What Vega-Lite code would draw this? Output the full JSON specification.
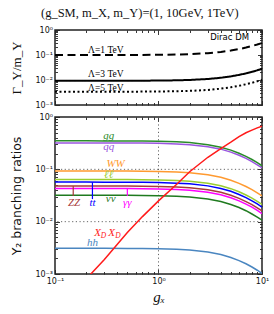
{
 "$schema": "https://vega.github.io/schema/vega-lite/v6.json",
 "padding": {"left": 10, "top": 6, "right": 9, "bottom": 2},
 "bounds": "flush",
 "spacing": 12,
 "background": "white",
 "title": {"text": "(g_SM, m_X, m_Y)=(1, 10GeV, 1TeV)", "font": "Liberation Serif", "fontSize": 12.5, "fontWeight": "normal", "anchor": "middle", "offset": 6, "color": "#111"},
 "config": {
  "view": {"stroke": "#222", "strokeWidth": 1.5},
  "axis": {"domain": false, "grid": false, "tickColor": "#222", "tickSize": -4.5, "tickWidth": 0.9, "labelFont": "DejaVu Sans", "labelFontSize": 8, "labelColor": "#111", "labelOverlap": false, "labelFlush": false, "labelBound": false, "titleColor": "#111", "titleFontWeight": "normal"}
 },
 "datasets": {
  "width": [
   {"lam":"1","g":0.1,"v":0.1},{"lam":"1","g":0.3,"v":0.1002},{"lam":"1","g":0.5,"v":0.1005},{"lam":"1","g":0.7,"v":0.101},{"lam":"1","g":1,"v":0.102},{"lam":"1","g":1.5,"v":0.1045},{"lam":"1","g":2,"v":0.108},{"lam":"1","g":3,"v":0.118},{"lam":"1","g":4,"v":0.132},{"lam":"1","g":5,"v":0.15},{"lam":"1","g":6,"v":0.172},{"lam":"1","g":7,"v":0.198},{"lam":"1","g":8,"v":0.228},{"lam":"1","g":9,"v":0.262},{"lam":"1","g":10,"v":0.3},
   {"lam":"3","g":0.1,"v":0.0093},{"lam":"3","g":0.3,"v":0.00932},{"lam":"3","g":0.5,"v":0.00935},{"lam":"3","g":0.7,"v":0.00939},{"lam":"3","g":1,"v":0.00949},{"lam":"3","g":1.5,"v":0.00972},{"lam":"3","g":2,"v":0.01004},{"lam":"3","g":3,"v":0.01097},{"lam":"3","g":4,"v":0.01228},{"lam":"3","g":5,"v":0.01395},{"lam":"3","g":6,"v":0.016},{"lam":"3","g":7,"v":0.01841},{"lam":"3","g":8,"v":0.0212},{"lam":"3","g":9,"v":0.02437},{"lam":"3","g":10,"v":0.0279},
   {"lam":"5","g":0.1,"v":0.0034},{"lam":"5","g":0.3,"v":0.00341},{"lam":"5","g":0.5,"v":0.00342},{"lam":"5","g":0.7,"v":0.00343},{"lam":"5","g":1,"v":0.00347},{"lam":"5","g":1.5,"v":0.00355},{"lam":"5","g":2,"v":0.00367},{"lam":"5","g":3,"v":0.00401},{"lam":"5","g":4,"v":0.00449},{"lam":"5","g":5,"v":0.0051},{"lam":"5","g":6,"v":0.00585},{"lam":"5","g":7,"v":0.00673},{"lam":"5","g":8,"v":0.00775},{"lam":"5","g":9,"v":0.00891},{"lam":"5","g":10,"v":0.0102}
  ],
  "wlab": [
   {"g":0.31,"v":0.16,"t":"Λ=1 TeV"},
   {"g":0.31,"v":0.0178,"t":"Λ=3 TeV"},
   {"g":0.31,"v":0.0049,"t":"Λ=5 TeV"}
  ],
  "br": [
   {"c":"qq","g":0.1,"v":0.32},{"c":"qq","g":0.2,"v":0.32},{"c":"qq","g":0.3,"v":0.319},{"c":"qq","g":0.5,"v":0.318},{"c":"qq","g":0.7,"v":0.317},{"c":"qq","g":1,"v":0.314},{"c":"qq","g":1.5,"v":0.306},{"c":"qq","g":2,"v":0.296},{"c":"qq","g":3,"v":0.271},{"c":"qq","g":4,"v":0.243},{"c":"qq","g":5,"v":0.213},{"c":"qq","g":6,"v":0.186},{"c":"qq","g":7,"v":0.162},{"c":"qq","g":8,"v":0.14},{"c":"qq","g":9,"v":0.122},{"c":"qq","g":10,"v":0.107},
   {"c":"gg","g":0.1,"v":0.35},{"c":"gg","g":0.2,"v":0.35},{"c":"gg","g":0.3,"v":0.349},{"c":"gg","g":0.5,"v":0.348},{"c":"gg","g":0.7,"v":0.347},{"c":"gg","g":1,"v":0.343},{"c":"gg","g":1.5,"v":0.335},{"c":"gg","g":2,"v":0.324},{"c":"gg","g":3,"v":0.296},{"c":"gg","g":4,"v":0.265},{"c":"gg","g":5,"v":0.233},{"c":"gg","g":6,"v":0.203},{"c":"gg","g":7,"v":0.177},{"c":"gg","g":8,"v":0.154},{"c":"gg","g":9,"v":0.134},{"c":"gg","g":10,"v":0.117},
   {"c":"WW","g":0.1,"v":0.093},{"c":"WW","g":0.2,"v":0.093},{"c":"WW","g":0.3,"v":0.0928},{"c":"WW","g":0.5,"v":0.0925},{"c":"WW","g":0.7,"v":0.0921},{"c":"WW","g":1,"v":0.0911},{"c":"WW","g":1.5,"v":0.089},{"c":"WW","g":2,"v":0.0861},{"c":"WW","g":3,"v":0.0788},{"c":"WW","g":4,"v":0.0705},{"c":"WW","g":5,"v":0.062},{"c":"WW","g":6,"v":0.054},{"c":"WW","g":7,"v":0.047},{"c":"WW","g":8,"v":0.0408},{"c":"WW","g":9,"v":0.0355},{"c":"WW","g":10,"v":0.031},
   {"c":"ll","g":0.1,"v":0.064},{"c":"ll","g":0.2,"v":0.064},{"c":"ll","g":0.3,"v":0.0639},{"c":"ll","g":0.5,"v":0.0637},{"c":"ll","g":0.7,"v":0.0634},{"c":"ll","g":1,"v":0.0627},{"c":"ll","g":1.5,"v":0.0612},{"c":"ll","g":2,"v":0.0593},{"c":"ll","g":3,"v":0.0542},{"c":"ll","g":4,"v":0.0485},{"c":"ll","g":5,"v":0.0427},{"c":"ll","g":6,"v":0.0372},{"c":"ll","g":7,"v":0.0323},{"c":"ll","g":8,"v":0.0281},{"c":"ll","g":9,"v":0.0244},{"c":"ll","g":10,"v":0.0213},
   {"c":"tt","g":0.1,"v":0.057},{"c":"tt","g":0.2,"v":0.057},{"c":"tt","g":0.3,"v":0.0569},{"c":"tt","g":0.5,"v":0.0567},{"c":"tt","g":0.7,"v":0.0564},{"c":"tt","g":1,"v":0.0559},{"c":"tt","g":1.5,"v":0.0545},{"c":"tt","g":2,"v":0.0528},{"c":"tt","g":3,"v":0.0483},{"c":"tt","g":4,"v":0.0432},{"c":"tt","g":5,"v":0.038},{"c":"tt","g":6,"v":0.0331},{"c":"tt","g":7,"v":0.0288},{"c":"tt","g":8,"v":0.025},{"c":"tt","g":9,"v":0.0218},{"c":"tt","g":10,"v":0.019},
   {"c":"ZZ","g":0.1,"v":0.048},{"c":"ZZ","g":0.2,"v":0.048},{"c":"ZZ","g":0.3,"v":0.0479},{"c":"ZZ","g":0.5,"v":0.0478},{"c":"ZZ","g":0.7,"v":0.0475},{"c":"ZZ","g":1,"v":0.047},{"c":"ZZ","g":1.5,"v":0.0459},{"c":"ZZ","g":2,"v":0.0444},{"c":"ZZ","g":3,"v":0.0407},{"c":"ZZ","g":4,"v":0.0364},{"c":"ZZ","g":5,"v":0.032},{"c":"ZZ","g":6,"v":0.0279},{"c":"ZZ","g":7,"v":0.0242},{"c":"ZZ","g":8,"v":0.0211},{"c":"ZZ","g":9,"v":0.0183},{"c":"ZZ","g":10,"v":0.016},
   {"c":"aa","g":0.1,"v":0.043},{"c":"aa","g":0.2,"v":0.043},{"c":"aa","g":0.3,"v":0.0429},{"c":"aa","g":0.5,"v":0.0428},{"c":"aa","g":0.7,"v":0.0426},{"c":"aa","g":1,"v":0.0421},{"c":"aa","g":1.5,"v":0.0412},{"c":"aa","g":2,"v":0.0398},{"c":"aa","g":3,"v":0.0364},{"c":"aa","g":4,"v":0.0326},{"c":"aa","g":5,"v":0.0287},{"c":"aa","g":6,"v":0.025},{"c":"aa","g":7,"v":0.0217},{"c":"aa","g":8,"v":0.0189},{"c":"aa","g":9,"v":0.0164},{"c":"aa","g":10,"v":0.0143},
   {"c":"nn","g":0.1,"v":0.032},{"c":"nn","g":0.2,"v":0.032},{"c":"nn","g":0.3,"v":0.0319},{"c":"nn","g":0.5,"v":0.0318},{"c":"nn","g":0.7,"v":0.0317},{"c":"nn","g":1,"v":0.0314},{"c":"nn","g":1.5,"v":0.0306},{"c":"nn","g":2,"v":0.0296},{"c":"nn","g":3,"v":0.0271},{"c":"nn","g":4,"v":0.0243},{"c":"nn","g":5,"v":0.0213},{"c":"nn","g":6,"v":0.0186},{"c":"nn","g":7,"v":0.0162},{"c":"nn","g":8,"v":0.014},{"c":"nn","g":9,"v":0.0122},{"c":"nn","g":10,"v":0.0107},
   {"c":"hh","g":0.1,"v":0.0031},{"c":"hh","g":0.2,"v":0.0031},{"c":"hh","g":0.3,"v":0.00309},{"c":"hh","g":0.5,"v":0.00308},{"c":"hh","g":0.7,"v":0.00307},{"c":"hh","g":1,"v":0.00304},{"c":"hh","g":1.5,"v":0.00297},{"c":"hh","g":2,"v":0.00287},{"c":"hh","g":3,"v":0.00263},{"c":"hh","g":4,"v":0.00235},{"c":"hh","g":5,"v":0.00207},{"c":"hh","g":6,"v":0.0018},{"c":"hh","g":7,"v":0.00157},{"c":"hh","g":8,"v":0.00136},{"c":"hh","g":9,"v":0.00118},{"c":"hh","g":10,"v":0.00103},
   {"c":"XX","g":0.2,"v":0.0008},{"c":"XX","g":0.3,"v":0.0019},{"c":"XX","g":0.5,"v":0.0062},{"c":"XX","g":0.7,"v":0.0125},{"c":"XX","g":1,"v":0.025},{"c":"XX","g":1.5,"v":0.052},{"c":"XX","g":2,"v":0.09},{"c":"XX","g":3,"v":0.17},{"c":"XX","g":4,"v":0.25},{"c":"XX","g":5,"v":0.33},{"c":"XX","g":6,"v":0.42},{"c":"XX","g":7,"v":0.5},{"c":"XX","g":8,"v":0.56},{"c":"XX","g":9,"v":0.62},{"c":"XX","g":10,"v":0.67}
  ],
  "blab": [
   {"c":"gg","g":0.33,"v":0.44,"t":"gg"},
   {"c":"qq","g":0.33,"v":0.262,"t":"qq"},
   {"c":"WW","g":0.385,"v":0.127,"t":"WW"},
   {"c":"ll","g":0.33,"v":0.079,"t":"ℓℓ"},
   {"c":"ZZ","g":0.153,"v":0.0232,"t":"ZZ"},
   {"c":"tt","g":0.23,"v":0.0232,"t":"tt"},
   {"c":"nn","g":0.345,"v":0.0272,"t":"νν"},
   {"c":"aa","g":0.5,"v":0.0232,"t":"γγ"},
   {"c":"hh","g":0.23,"v":0.0039,"t":"hh"},
   {"c":"XX","g":0.258,"v":0.0061,"t":"X"},
   {"c":"XX","g":0.352,"v":0.0061,"t":"X"}
  ],
  "sub": [
   {"c":"XX","g":0.294,"v":0.0061,"t":"D"},
   {"c":"XX","g":0.406,"v":0.0061,"t":"D"}
  ],
  "ticks": [
   {"c":"ZZ","g":0.15,"v":0.048,"v2":0.031},
   {"c":"tt","g":0.23,"v":0.057,"v2":0.027},
   {"c":"aa","g":0.5,"v":0.043,"v2":0.031}
  ]
 },
 "vconcat": [
  {
   "width": 207, "height": 75,
   "resolve": {"axis": {"x": "independent", "y": "independent"}},
   "encoding": {
    "x": {"field": "g", "type": "quantitative", "scale": {"type": "log", "domain": [0.1, 10]}, "axis": null},
    "y": {"field": "v", "type": "quantitative", "scale": {"type": "log", "domain": [0.001, 1]}, "axis": null}
   },
   "layer": [
    {"data": {"name": "width"}, "mark": {"type": "line", "color": "#000", "strokeWidth": 2, "clip": true},
     "encoding": {
      "x": {"field": "g", "type": "quantitative", "axis": {"orient": "bottom", "values": [0.1,1,10], "labels": false, "title": null}},
      "y": {"field": "v", "type": "quantitative", "axis": {"orient": "left", "values": [0.001,0.01,0.1,1],
                   "labelExpr": "datum.value==1?'10⁰':datum.value==0.1?'10⁻¹':datum.value==0.01?'10⁻²':datum.value==0.001?'10⁻³':''",
                   "labelPadding": 7, "title": "Γ_Y/m_Y", "titleFont": "Liberation Serif", "titleFontSize": 13, "titlePadding": 11}},
      "strokeDash": {"field": "lam", "type": "nominal", "scale": {"domain": ["1","3","5"], "range": [[8,4.5],[1,0],[2,2.5]]}, "legend": null}}},
    {"data": {"name": "width"}, "mark": {"type": "point", "opacity": 0},
     "encoding": {
      "x": {"field": "g", "type": "quantitative", "axis": {"orient": "bottom", "values": [0.2,0.3,0.4,0.5,0.6,0.7,0.8,0.9,2,3,4,5,6,7,8,9], "labels": false, "title": null, "tickSize": -2.5}},
      "y": {"field": "v", "type": "quantitative", "axis": {"orient": "left", "values": [0.002,0.003,0.004,0.005,0.006,0.007,0.008,0.009,0.02,0.03,0.04,0.05,0.06,0.07,0.08,0.09,0.2,0.3,0.4,0.5,0.6,0.7,0.8,0.9], "labels": false, "title": null, "tickSize": -2.5}}}},
    {"data": {"name": "width"}, "mark": {"type": "point", "opacity": 0},
     "encoding": {
      "x": {"field": "g", "type": "quantitative", "axis": {"orient": "top", "values": [0.1,1,10], "labels": false, "title": null}},
      "y": {"field": "v", "type": "quantitative", "axis": {"orient": "right", "values": [0.001,0.01,0.1,1], "labels": false, "title": null}}}},
    {"data": {"name": "width"}, "mark": {"type": "point", "opacity": 0},
     "encoding": {
      "x": {"field": "g", "type": "quantitative", "axis": {"orient": "top", "values": [0.2,0.3,0.4,0.5,0.6,0.7,0.8,0.9,2,3,4,5,6,7,8,9], "labels": false, "title": null, "tickSize": -2.5}},
      "y": {"field": "v", "type": "quantitative", "axis": {"orient": "right", "values": [0.002,0.003,0.004,0.005,0.006,0.007,0.008,0.009,0.02,0.03,0.04,0.05,0.06,0.07,0.08,0.09,0.2,0.3,0.4,0.5,0.6,0.7,0.8,0.9], "labels": false, "title": null, "tickSize": -2.5}}}},
    {"data": {"name": "wlab"}, "mark": {"type": "text", "font": "Liberation Serif", "fontSize": 9.5, "color": "#000"},
     "encoding": {"text": {"field": "t"}}},
    {"data": {"values": [{"g": 7.5, "v": 0.52, "t": "Dirac DM"}]}, "mark": {"type": "text", "font": "DejaVu Sans", "fontSize": 8.5, "align": "right", "color": "#000"},
     "encoding": {"text": {"field": "t"}}}
   ]
  },
  {
   "width": 207, "height": 157,
   "resolve": {"axis": {"x": "independent", "y": "independent"}},
   "encoding": {
    "x": {"field": "g", "type": "quantitative", "scale": {"type": "log", "domain": [0.1, 10]}, "axis": null},
    "y": {"field": "v", "type": "quantitative", "scale": {"type": "log", "domain": [0.001, 1]}, "axis": null},
    "color": {"field": "c", "type": "nominal", "legend": null,
              "scale": {"domain": ["gg","qq","WW","ll","tt","ZZ","aa","nn","hh","XX"],
                        "range": ["#2a8c2a","#9a55e0","#ff9a30","#9acd32","#0000ff","#a83a3a","#ff00ff","#1f7a1f","#4a86c0","#ff1a1a"]}}
   },
   "layer": [
    {"data": {"values": [{"gy": 0.1}, {"gy": 0.01}]}, "mark": {"type": "rule", "color": "#555", "strokeWidth": 0.9, "strokeDash": [1.2, 2.5]},
     "encoding": {"y": {"field": "gy", "type": "quantitative", "axis": null}, "x": null, "color": null}},
    {"data": {"values": [{"gx": 1}]}, "mark": {"type": "rule", "color": "#555", "strokeWidth": 0.9, "strokeDash": [1.2, 2.5]},
     "encoding": {"x": {"field": "gx", "type": "quantitative", "axis": null}, "y": null, "color": null}},
    {"data": {"name": "br"}, "mark": {"type": "line", "strokeWidth": 1.5, "clip": true},
     "encoding": {
      "x": {"field": "g", "type": "quantitative", "axis": {"orient": "bottom", "values": [0.1,1,10],
                   "labelExpr": "datum.value==0.1?'10⁻¹':datum.value==1?'10⁰':datum.value==10?'10¹':''",
                   "labelPadding": 8, "title": "gₓ", "titleFont": "Liberation Serif", "titleFontStyle": "italic", "titleFontSize": 15, "titlePadding": 4}},
      "y": {"field": "v", "type": "quantitative", "axis": {"orient": "left", "values": [0.001,0.01,0.1,1],
                   "labelExpr": "datum.value==1?'10⁰':datum.value==0.1?'10⁻¹':datum.value==0.01?'10⁻²':datum.value==0.001?'10⁻³':''",
                   "labelPadding": 7, "title": "Y₂ branching ratios", "titleFont": "DejaVu Sans", "titleFontSize": 12.5, "titlePadding": 11}}}},
    {"data": {"name": "br"}, "mark": {"type": "point", "opacity": 0},
     "encoding": {
      "x": {"field": "g", "type": "quantitative", "axis": {"orient": "bottom", "values": [0.2,0.3,0.4,0.5,0.6,0.7,0.8,0.9,2,3,4,5,6,7,8,9], "labels": false, "title": null, "tickSize": -2.5}},
      "y": {"field": "v", "type": "quantitative", "axis": {"orient": "left", "values": [0.002,0.003,0.004,0.005,0.006,0.007,0.008,0.009,0.02,0.03,0.04,0.05,0.06,0.07,0.08,0.09,0.2,0.3,0.4,0.5,0.6,0.7,0.8,0.9], "labels": false, "title": null, "tickSize": -2.5}}}},
    {"data": {"name": "br"}, "mark": {"type": "point", "opacity": 0},
     "encoding": {
      "x": {"field": "g", "type": "quantitative", "axis": {"orient": "top", "values": [0.1,1,10], "labels": false, "title": null}},
      "y": {"field": "v", "type": "quantitative", "axis": {"orient": "right", "values": [0.001,0.01,0.1,1], "labels": false, "title": null}}}},
    {"data": {"name": "br"}, "mark": {"type": "point", "opacity": 0},
     "encoding": {
      "x": {"field": "g", "type": "quantitative", "axis": {"orient": "top", "values": [0.2,0.3,0.4,0.5,0.6,0.7,0.8,0.9,2,3,4,5,6,7,8,9], "labels": false, "title": null, "tickSize": -2.5}},
      "y": {"field": "v", "type": "quantitative", "axis": {"orient": "right", "values": [0.002,0.003,0.004,0.005,0.006,0.007,0.008,0.009,0.02,0.03,0.04,0.05,0.06,0.07,0.08,0.09,0.2,0.3,0.4,0.5,0.6,0.7,0.8,0.9], "labels": false, "title": null, "tickSize": -2.5}}}},
    {"data": {"name": "ticks"}, "mark": {"type": "rule", "strokeWidth": 1.2},
     "encoding": {"y2": {"field": "v2"}}},
    {"data": {"name": "blab"}, "mark": {"type": "text", "font": "Liberation Serif", "fontStyle": "italic", "fontSize": 11},
     "encoding": {"text": {"field": "t"}}},
    {"data": {"name": "sub"}, "mark": {"type": "text", "font": "Liberation Serif", "fontStyle": "italic", "fontSize": 7.5, "dy": 3.5},
     "encoding": {"text": {"field": "t"}}}
   ]
  }
 ]
}
